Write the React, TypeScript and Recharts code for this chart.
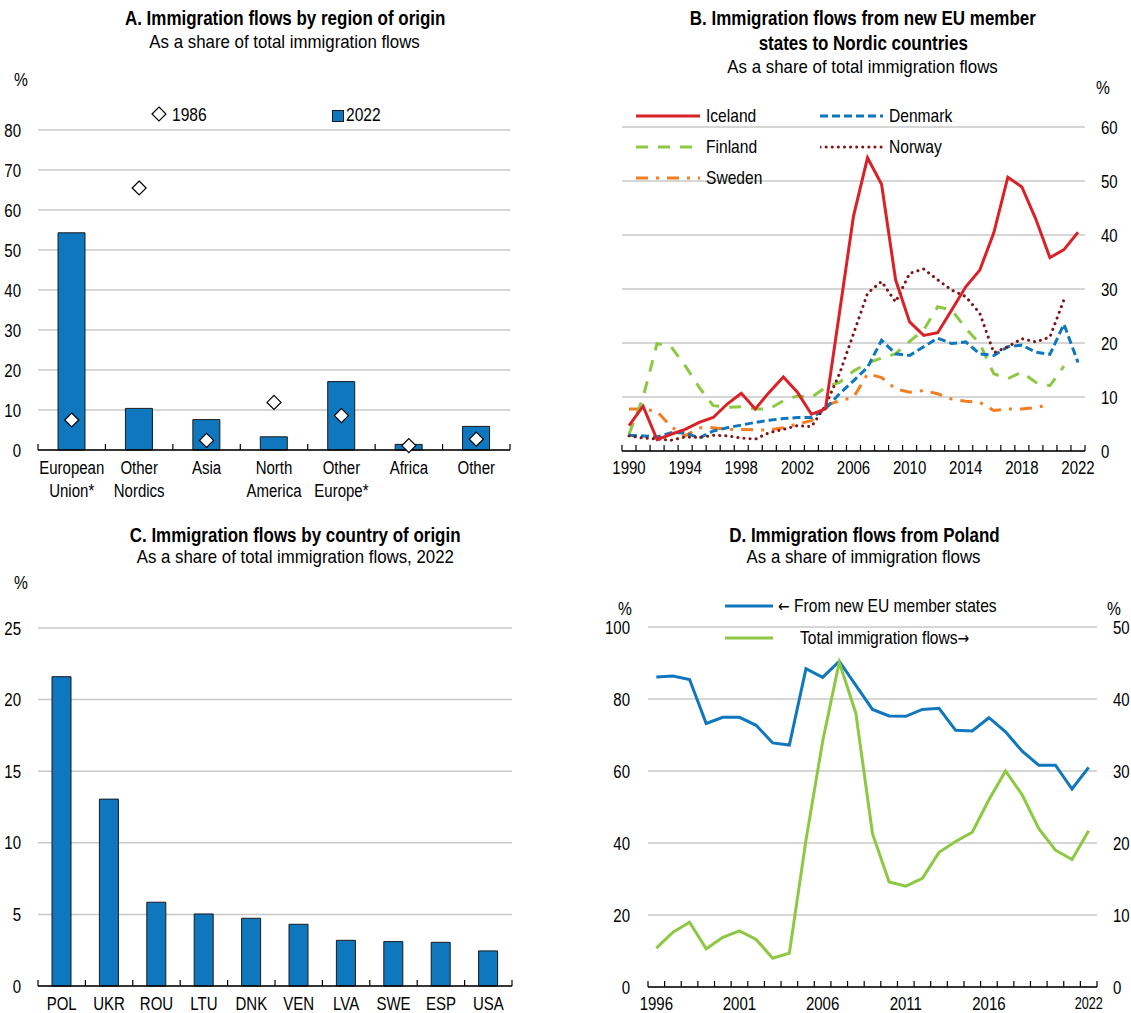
import React from "react";
import {
  Bar,
  BarChart,
  CartesianGrid,
  ComposedChart,
  Line,
  LineChart,
  XAxis,
  YAxis,
} from "recharts";

/* Arial metrics, squeezed horizontally to imitate the narrow face of the original */
const FONT = "'Liberation Sans', Arial, sans-serif";
const ARROW_FONT = "'DejaVu Sans', sans-serif";
const TICK_FONT = 19;
const TICK_SX = 0.79;
const LEGEND_SX = 0.82;

/* OECD-style palette */
const BLUE = "#0F77BD";
const RED = "#DA2128";
const GREEN = "#8CC841";
const ORANGE = "#F47D20";
const DARK_RED = "#7F1416";
const GRID = "#c8c8c8";

/* Panel A: region of origin */
const REGIONS = ["European Union*", "Other Nordics", "Asia", "North America", "Other Europe*", "Africa", "Other"];
const REGION_2022 = [54.3, 10.4, 7.6, 3.3, 17.1, 1.4, 5.9];
const REGION_1986 = [7.5, 65.5, 2.4, 11.9, 8.6, 1.1, 2.7];
const A_TICKS = [0, 10, 20, 30, 40, 50, 60, 70, 80];

/* Panel B: new EU member states to Nordic countries */
const YEARS_B = [
  1990, 1991, 1992, 1993, 1994, 1995, 1996, 1997, 1998, 1999, 2000, 2001, 2002, 2003, 2004, 2005, 2006,
  2007, 2008, 2009, 2010, 2011, 2012, 2013, 2014, 2015, 2016, 2017, 2018, 2019, 2020, 2021, 2022,
];
const B_LABELS = [1990, 1994, 1998, 2002, 2006, 2010, 2014, 2018, 2022];
const ICELAND = [
  4.7, 8.3, 2.1, 3.1, 4.0, 5.3, 6.2, 8.7, 10.7, 7.8, 10.9, 13.7, 10.9, 6.8, 7.8, 25.6, 43.5,
  54.3, 49.4, 31.7, 23.9, 21.4, 21.9, 26.1, 30.4, 33.5, 40.4, 50.7, 48.9, 42.9, 35.8, 37.3, 40.5,
];
const DENMARK = [
  2.9, 2.8, 2.6, 3.4, 3.4, 2.4, 3.7, 4.3, 4.8, 5.3, 5.7, 6.0, 6.2, 6.2, 7.8, 10.6, 13.0,
  15.5, 20.5, 18.0, 17.7, 19.3, 20.9, 19.9, 20.2, 18.0, 17.7, 19.3, 19.6, 18.3, 17.9, 23.5, 16.4,
];
const FINLAND = [
  3.1, 9.9, 19.9, 19.3, 15.8, 11.8, 8.4, 8.1, 8.2, 7.8, 7.8, 9.3, 10.2, 9.9, 11.8, 12.7, 14.8,
  16.3, 17.2, 18.0, 20.3, 22.4, 26.7, 26.1, 22.7, 19.9, 14.3, 13.4, 14.6, 12.7, 12.1, 15.7, null,
];
const NORWAY = [
  2.8, 2.4, 2.2, 2.0, 2.6, 2.5, 2.9, 2.8, 2.4, 2.2, 3.4, 4.0, 4.7, 4.5, 8.4, 14.3, 21.7,
  29.2, 31.4, 27.6, 32.9, 33.7, 31.7, 29.8, 28.6, 25.5, 18.2, 19.3, 20.8, 20.2, 21.1, 28.0, null,
];
const SWEDEN = [
  7.8, 7.8, 7.3, 4.5, 2.8, 4.3, 4.3, 4.0, 4.0, 3.9, 3.9, 4.3, 5.0, 5.6, 8.4, 9.3, 9.9,
  14.3, 13.6, 11.5, 10.9, 11.2, 10.6, 9.6, 9.2, 9.0, 7.5, 7.8, 7.8, 8.0, 8.7, null, null,
];
const B_TICKS = [0, 10, 20, 30, 40, 50, 60];

/* Panel C: country of origin, 2022 */
const COUNTRIES = ["POL", "UKR", "ROU", "LTU", "DNK", "VEN", "LVA", "SWE", "ESP", "USA"];
const COUNTRY_SHARE = [21.6, 13.05, 5.85, 5.03, 4.73, 4.31, 3.19, 3.1, 3.05, 2.45];
const C_TICKS = [0, 5, 10, 15, 20, 25];

/* Panel D: Poland */
const YEARS_D = [
  1996, 1997, 1998, 1999, 2000, 2001, 2002, 2003, 2004, 2005, 2006, 2007, 2008, 2009,
  2010, 2011, 2012, 2013, 2014, 2015, 2016, 2017, 2018, 2019, 2020, 2021, 2022,
];
const D_LABELS = [1996, 2001, 2006, 2011, 2016, 2022];
const POL_NEW_EU = [
  86.1, 86.4, 85.4, 73.2, 74.9, 74.9, 72.7, 67.8, 67.2, 88.4, 86.0, 90.5, 83.8, 77.1,
  75.3, 75.2, 77.1, 77.4, 71.3, 71.1, 74.8, 70.9, 65.5, 61.6, 61.6, 55.0, 61.0,
];
const POL_TOTAL = [
  5.4, 7.6, 9.0, 5.3, 6.9, 7.8, 6.6, 4.0, 4.7, 20.4, 34.1, 45.1, 38.0, 21.3,
  14.6, 14.0, 15.1, 18.7, 20.2, 21.5, 26.0, 30.0, 26.7, 22.0, 19.0, 17.7, 21.7,
];
const D_LEFT_TICKS = [0, 20, 40, 60, 80, 100];
const D_RIGHT_TICKS = [0, 10, 20, 30, 40, 50];

const regionRows = REGIONS.map((region, i) => ({ region, v2022: REGION_2022[i], v1986: REGION_1986[i] }));
const countryRows = COUNTRIES.map((country, i) => ({ country, share: COUNTRY_SHARE[i] }));
const nordicRows = YEARS_B.map((year, i) => ({
  year,
  Iceland: ICELAND[i],
  Denmark: DENMARK[i],
  Finland: FINLAND[i],
  Norway: NORWAY[i],
  Sweden: SWEDEN[i],
}));
const polandRows = YEARS_D.map((year, i) => ({ year, newEu: POL_NEW_EU[i], total: POL_TOTAL[i] }));

/* narrow svg text, centred vertically on y */
function NText({ x, y, anchor = "middle", size = TICK_FONT, sx = TICK_SX, children }: any) {
  return (
    <text
      transform={`translate(${x},${y}) scale(${sx},1)`}
      x={0}
      y={0}
      dy="0.35em"
      textAnchor={anchor}
      fontSize={size}
      fill="#000"
    >
      {children}
    </text>
  );
}

function ValueTick(props: any) {
  const { x, y, payload, textAnchor } = props;
  return <NText x={x} y={y} anchor={textAnchor}>{payload.value}</NText>;
}

/* Category tick: label lines + inward tick marks on the band edges */
function BandTick(props: any) {
  const { x, y, payload, index, band, count } = props;
  const words = String(payload.value).split(" ");
  return (
    <g>
      <line x1={x - band / 2} x2={x - band / 2} y1={y} y2={y - 6} stroke="#000" strokeWidth={1.2} />
      {index === count - 1 && (
        <line x1={x + band / 2} x2={x + band / 2} y1={y} y2={y - 6} stroke="#000" strokeWidth={1.2} />
      )}
      {words.map((w, i) => (
        <NText key={i} x={x} y={y + 17 + i * 23}>
          {w}
        </NText>
      ))}
    </g>
  );
}

/* Yearly tick: mark on each year boundary, label only on listed years */
function YearTick(props: any) {
  const { x, y, payload, index, half, count, labels, lastSize } = props;
  const show = labels.includes(payload.value);
  const isLast = index === count - 1;
  return (
    <g>
      <line x1={x - half} x2={x - half} y1={y} y2={y - 6} stroke="#000" strokeWidth={1.2} />
      {isLast && <line x1={x + half} x2={x + half} y1={y} y2={y - 6} stroke="#000" strokeWidth={1.2} />}
      {show && (
        <NText x={x} y={y + 16} size={isLast && lastSize ? lastSize : TICK_FONT}>
          {payload.value}
        </NText>
      )}
    </g>
  );
}

function Diamond(props: any) {
  const { cx, cy } = props;
  if (cx == null || cy == null) return null;
  const r = 7;
  return (
    <polygon
      points={`${cx},${cy - r} ${cx + r},${cy} ${cx},${cy + r} ${cx - r},${cy}`}
      fill="#fff"
      stroke="#000"
      strokeWidth={1.2}
    />
  );
}

function Title({ cx, top, bold, sub, lh }: { cx: number; top: number; bold: string[]; sub: string; lh: number }) {
  const line = (sx: number) => ({
    display: "inline-block",
    transform: `scaleX(${sx})`,
    transformOrigin: "center",
  });
  return (
    <div
      style={{
        position: "absolute",
        left: cx - 300,
        width: 600,
        top,
        textAlign: "center",
        lineHeight: `${lh}px`,
        whiteSpace: "nowrap",
      }}
    >
      {bold.map((b) => (
        <div key={b} style={{ fontWeight: "bold", fontSize: 19.5 }}>
          <span style={line(0.87)}>{b}</span>
        </div>
      ))}
      <div style={{ fontSize: 18.5 }}>
        <span style={line(0.91)}>{sub}</span>
      </div>
    </div>
  );
}

function Label({ x, y, text, sx = LEGEND_SX }: { x: number; y: number; text: React.ReactNode; sx?: number }) {
  return (
    <div
      style={{
        position: "absolute",
        left: x,
        top: y - 11,
        fontSize: TICK_FONT,
        lineHeight: "22px",
        whiteSpace: "nowrap",
        transform: `scaleX(${sx})`,
        transformOrigin: "left center",
      }}
    >
      {text}
    </div>
  );
}

function Arrow({ ch }: { ch: string }) {
  return <span style={{ fontFamily: ARROW_FONT, fontSize: 17 }}>{ch}</span>;
}

function Swatch({ x, y, w, stroke, dash, width = 3, cap = "butt" }: any) {
  return (
    <svg style={{ position: "absolute", left: x, top: y - 5 }} width={w} height={10}>
      <line
        x1={0}
        x2={w}
        y1={5}
        y2={5}
        stroke={stroke}
        strokeWidth={width}
        strokeDasharray={dash}
        strokeLinecap={cap}
      />
    </svg>
  );
}

const A_BAND = 472 / REGIONS.length;
const C_BAND = 474 / COUNTRIES.length;
const B_HALF = 463 / YEARS_B.length / 2;
const D_HALF = 449 / YEARS_D.length / 2;

const valueAxis = {
  tickSize: 0,
  axisLine: false,
  tickLine: false,
  tick: <ValueTick />,
  interval: 0 as const,
};

export default function App() {
  return (
    <div
      style={{
        position: "absolute",
        left: 0,
        top: 0,
        width: 1131,
        height: 1013,
        background: "#fff",
        fontFamily: FONT,
        color: "#000",
        overflow: "hidden",
      }}
    >
      {/* ---------- A ---------- */}
      <Title cx={285} top={6} lh={24} bold={["A. Immigration flows by region of origin"]} sub="As a share of total immigration flows" />
      <Label x={14} y={80} text="%" />
      <div style={{ position: "absolute", left: 0, top: 100 }}>
        <ComposedChart width={520} height={410} data={regionRows} margin={{ top: 30, right: 10, bottom: 10, left: 0 }}>
          <CartesianGrid vertical={false} stroke={GRID} strokeWidth={1.5} />
          <YAxis width={38} domain={[0, 80]} ticks={A_TICKS} tickMargin={17} {...valueAxis} />
          <XAxis
            dataKey="region"
            height={50}
            interval={0}
            tickSize={0}
            tickMargin={0}
            tickLine={false}
            axisLine={{ stroke: "#000", strokeWidth: 1.5 }}
            tick={(p: any) => <BandTick {...p} band={A_BAND} count={REGIONS.length} />}
          />
          <Bar dataKey="v2022" barSize={27} fill={BLUE} stroke="#1a1a1a" strokeWidth={1} isAnimationActive={false} />
          <Line dataKey="v1986" stroke="none" dot={<Diamond />} activeDot={false} isAnimationActive={false} />
        </ComposedChart>
      </div>
      <svg style={{ position: "absolute", left: 150, top: 105 }} width={20} height={20}>
        <polygon points="9,2 16,9 9,16 2,9" fill="#fff" stroke="#000" strokeWidth={1.2} />
      </svg>
      <Label x={172} y={115} text="1986" />
      <div
        style={{
          position: "absolute",
          left: 332,
          top: 110,
          width: 10,
          height: 10,
          background: BLUE,
          border: "1px solid #1a1a1a",
        }}
      />
      <Label x={346} y={115} text="2022" />

      {/* ---------- B ---------- */}
      <Title
        cx={863}
        top={6}
        lh={24.5}
        bold={["B. Immigration flows from new EU member", "states to Nordic countries"]}
        sub="As a share of total immigration flows"
      />
      <Label x={1096} y={88} text="%" />
      <div style={{ position: "absolute", left: 560, top: 100 }}>
        <LineChart width={571} height={385} data={nordicRows} margin={{ top: 27, right: 0, bottom: 4, left: 62 }}>
          <CartesianGrid vertical={false} stroke={GRID} strokeWidth={1.5} />
          <YAxis orientation="right" width={46} domain={[0, 60]} ticks={B_TICKS} tickMargin={16} {...valueAxis} />
          <XAxis
            dataKey="year"
            type="number"
            domain={[1989.5, 2022.5]}
            ticks={YEARS_B}
            height={30}
            interval={0}
            tickSize={0}
            tickMargin={0}
            tickLine={false}
            axisLine={{ stroke: "#000", strokeWidth: 1.5 }}
            tick={(p: any) => <YearTick {...p} half={B_HALF} count={YEARS_B.length} labels={B_LABELS} />}
          />
          <Line dataKey="Sweden" stroke={ORANGE} strokeWidth={3} strokeDasharray="12 8 3 8" dot={false} isAnimationActive={false} />
          <Line dataKey="Finland" stroke={GREEN} strokeWidth={3} strokeDasharray="12 10" dot={false} isAnimationActive={false} />
          <Line dataKey="Denmark" stroke={BLUE} strokeWidth={3} strokeDasharray="8 4" dot={false} isAnimationActive={false} />
          <Line
            dataKey="Norway"
            stroke={DARK_RED}
            strokeWidth={3}
            strokeDasharray="0.1 6"
            strokeLinecap="round"
            dot={false}
            isAnimationActive={false}
          />
          <Line dataKey="Iceland" stroke={RED} strokeWidth={3} dot={false} isAnimationActive={false} />
        </LineChart>
      </div>
      <Swatch x={636} y={116} w={64} stroke={RED} />
      <Label x={706} y={116} text="Iceland" />
      <Swatch x={636} y={147} w={64} stroke={GREEN} dash="12 10" />
      <Label x={706} y={147} text="Finland" />
      <Swatch x={636} y={178} w={64} stroke={ORANGE} dash="12 8 3 8" />
      <Label x={706} y={178} text="Sweden" />
      <Swatch x={820} y={116} w={63} stroke={BLUE} dash="8 4" />
      <Label x={889} y={116} text="Denmark" />
      <Swatch x={820} y={147} w={63} stroke={DARK_RED} dash="0.1 6" cap="round" />
      <Label x={889} y={147} text="Norway" />

      {/* ---------- C ---------- */}
      <Title
        cx={295}
        top={524}
        lh={22}
        bold={["C. Immigration flows by country of origin"]}
        sub="As a share of total immigration flows, 2022"
      />
      <Label x={14} y={583} text="%" />
      <div style={{ position: "absolute", left: 0, top: 600 }}>
        <BarChart width={522} height={420} data={countryRows} margin={{ top: 28, right: 10, bottom: 4, left: 0 }}>
          <CartesianGrid vertical={false} stroke={GRID} strokeWidth={1.5} />
          <YAxis width={38} domain={[0, 25]} ticks={C_TICKS} tickMargin={17} {...valueAxis} />
          <XAxis
            dataKey="country"
            height={30}
            interval={0}
            tickSize={0}
            tickMargin={0}
            tickLine={false}
            axisLine={{ stroke: "#000", strokeWidth: 1.5 }}
            tick={(p: any) => <BandTick {...p} band={C_BAND} count={COUNTRIES.length} />}
          />
          <Bar dataKey="share" barSize={19} fill={BLUE} stroke="#1a1a1a" strokeWidth={1} isAnimationActive={false} />
        </BarChart>
      </div>

      {/* ---------- D ---------- */}
      <Title cx={864} top={524} lh={22} bold={["D. Immigration flows from Poland"]} sub="As a share of immigration flows" />
      <div style={{ position: "absolute", left: 560, top: 600 }}>
        <LineChart width={571} height={421} data={polandRows} margin={{ top: 27, right: 0, bottom: 4, left: 0 }}>
          <CartesianGrid vertical={false} yAxisId="left" stroke={GRID} strokeWidth={1.5} />
          <YAxis yAxisId="left" orientation="left" width={88} domain={[0, 100]} ticks={D_LEFT_TICKS} tickMargin={18} {...valueAxis} />
          <YAxis yAxisId="right" orientation="right" width={34} domain={[0, 50]} ticks={D_RIGHT_TICKS} tickMargin={16} {...valueAxis} />
          <XAxis
            dataKey="year"
            type="number"
            domain={[1995.5, 2022.5]}
            ticks={YEARS_D}
            height={30}
            interval={0}
            tickSize={0}
            tickMargin={0}
            tickLine={false}
            axisLine={{ stroke: "#000", strokeWidth: 1.5 }}
            tick={(p: any) => (
              <YearTick {...p} half={D_HALF} count={YEARS_D.length} labels={D_LABELS} lastSize={16} />
            )}
          />
          <Line yAxisId="left" dataKey="newEu" stroke={BLUE} strokeWidth={3} dot={false} isAnimationActive={false} />
          <Line yAxisId="right" dataKey="total" stroke={GREEN} strokeWidth={3} dot={false} isAnimationActive={false} />
        </LineChart>
      </div>
      <Label x={618} y={609} text="%" />
      <Label x={1107} y={609} text="%" />
      <Swatch x={725} y={606} w={48} stroke={BLUE} />
      <Label
        x={778}
        y={606}
        text={
          <>
            <Arrow ch="←" /> From new EU member states
          </>
        }
      />
      <Swatch x={725} y={638} w={48} stroke={GREEN} />
      <Label
        x={800}
        y={638}
        text={
          <>
            Total immigration flows
            <Arrow ch="→" />
          </>
        }
      />
    </div>
  );
}
